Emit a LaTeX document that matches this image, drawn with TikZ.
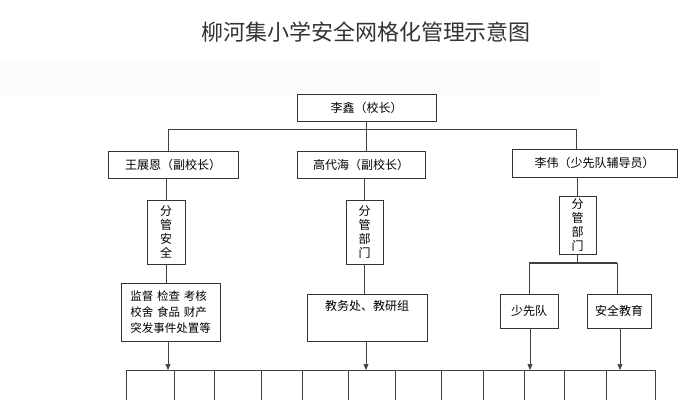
\documentclass[tikz,border=0pt]{standalone}
\usepackage{fontspec}
\setmainfont{Noto Sans CJK SC}
\usetikzlibrary{arrows.meta}
\begin{document}
\begin{tikzpicture}[x=1pt,y=-1pt,
  bx/.style={draw=black!80,line width=0.8pt,inner sep=0pt,font=\fontsize{12}{14}\selectfont},
  ln/.style={draw=black!75,line width=0.7pt},
  ar/.style={ln,-{Triangle[length=6pt,width=5pt]}}]
\useasboundingbox (0,0) rectangle (681,400);
\fill[black!1.5] (0,62) rectangle (600,96);
\node[font=\fontsize{22}{26}\selectfont,text=black!80] (title) at (366,32) {柳河集小学安全网格化管理示意图};
\node[bx,minimum width=139pt,minimum height=27pt] (p) at (366.5,107.5) {李鑫（校长）};
\node[bx,minimum width=130pt,minimum height=27pt] (a) at (173,164.5) {王展恩（副校长）};
\node[bx,minimum width=128pt,minimum height=27pt] (b) at (361,164.5) {高代海（副校长）};
\node[bx,minimum width=165pt,minimum height=28pt] (c) at (594.5,163) {李伟（少先队辅导员）};
\node[bx,minimum width=38pt,minimum height=64pt,align=center,font=\fontsize{12}{14}\selectfont] (a1) at (166,232) {分\\管\\安\\全};
\node[bx,minimum width=37pt,minimum height=64pt,align=center,font=\fontsize{12}{14}\selectfont] (b1) at (364.5,232) {分\\管\\部\\门};
\node[bx,minimum width=37pt,minimum height=58pt,align=center,font=\fontsize{12}{14}\selectfont] (c1) at (577.5,225) {分\\管\\部\\门};
\node[bx,minimum width=99pt,minimum height=58pt,align=left,font=\fontsize{11.5}{16}\selectfont] (a2) at (170.5,312) {监督\,\,检查\,\,考核\\校舍\,\,食品\,\,财产\\突发事件处置等};
\node[bx,minimum width=120pt,minimum height=47pt] (b2) at (367,317.5) {};
\node[font=\fontsize{12}{14}\selectfont] (b2t) at (367,306) {教务处、教研组};
\node[bx,minimum width=58pt,minimum height=34pt] (c2) at (529,311) {少先队};
\node[bx,minimum width=64pt,minimum height=34pt] (c3) at (619,311) {安全教育};
\coordinate (h1) at (168,129); \coordinate (h2) at (576,129);
\coordinate (hm) at (366,129);
\draw[ln] (p.south-|hm) -- (hm|-b.north);
\draw[ln] (h1) -- (h2);
\draw[ln] (h1) -- (h1|-a.north);
\draw[ln] (h2) -- (h2|-c.north);
\draw[ln] (a.south-|a1) -- (a1.north);
\draw[ln] (a1.south) -- (a1.south|-a2.north);
\draw[ln] (b1.north|-b.south) -- (b1.north);
\draw[ln] (b1.south) -- (b1.south|-b2.north);
\draw[ln] (c1.north|-c.south) -- (c1.north);
\coordinate (r1) at (529,263); \coordinate (r2) at (617,263);
\draw[ln,line width=1.2pt] (r1) -- (r2);
\draw[ln] (c1.south) -- (c1.south|-r1);
\draw[ln] (r1) -- (c2.north);
\draw[ln] (r2) -- (r2|-c3.north);
\coordinate (L) at (126,370); \coordinate (R) at (655,370);
\draw[ln,line width=1pt] (L) -- (R);
\foreach \x/\n in {126/t1,174/t2,214/t3,261/t4,302/t5,348/t6,395/t7,441/t8,483/t9,524/t10,564/t11,606/t12,655/t13}{
  \coordinate (\n) at (\x,400);
  \draw[ln] (\x,370) -- (\n);}
\draw[ar] (a2.south-|168,0) -- (168,370);
\draw[ar] (b2.south-|366,0) -- (366,370);
\draw[ar] (c2.south-|530,0) -- (530,370);
\draw[ar] (c3.south-|620,0) -- (620,370);
\end{tikzpicture}
\end{document}
